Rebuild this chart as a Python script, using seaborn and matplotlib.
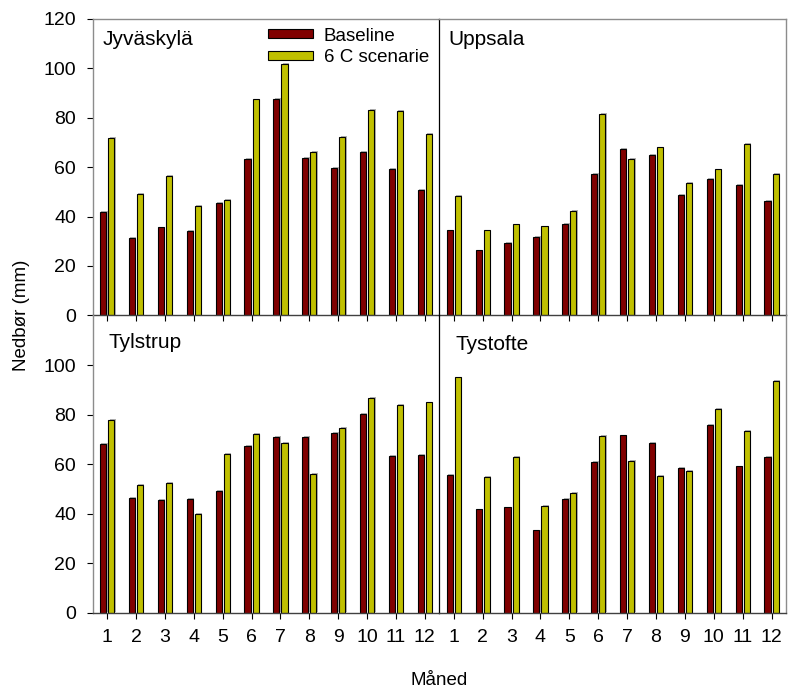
import matplotlib
matplotlib.use("Agg")
import matplotlib.pyplot as plt
import matplotlib.patheffects as pe
import seaborn as sns
import pandas as pd
from matplotlib.patches import Patch

# Monthly precipitation (mm) per station
months = [str(m) for m in range(1, 13)]
series = ["Baseline", "6 C scenarie"]
stations = ["Jyväskylä", "Uppsala", "Tylstrup", "Tystofte"]

jyvaskyla_base = [41.7, 31.4, 35.6, 34.3, 45.6, 63.2, 87.5, 63.8, 59.5, 66.2, 59.1, 50.9]
jyvaskyla_6c = [71.7, 49.0, 56.5, 44.3, 46.6, 87.3, 101.6, 66.2, 72.3, 83.1, 82.6, 73.3]
uppsala_base = [34.4, 26.3, 29.2, 31.8, 37.1, 57.1, 67.3, 64.9, 48.7, 55.2, 52.9, 46.2]
uppsala_6c = [48.4, 34.4, 36.8, 36.0, 42.2, 81.4, 63.3, 67.9, 53.7, 59.0, 69.5, 57.1]
tylstrup_base = [68.3, 46.4, 45.6, 46.0, 49.2, 67.3, 71.0, 71.0, 72.6, 80.2, 63.2, 63.8]
tylstrup_6c = [77.8, 51.7, 52.4, 39.9, 64.0, 72.3, 68.7, 55.9, 74.6, 86.8, 83.9, 84.9]
tystofte_base = [55.6, 41.7, 42.5, 33.2, 46.1, 61.0, 71.6, 68.4, 58.5, 75.9, 59.1, 63.0]
tystofte_6c = [95.0, 54.8, 62.9, 43.1, 48.4, 71.4, 61.3, 55.2, 57.4, 82.3, 73.5, 93.7]

station_data = {
    "Jyväskylä": (jyvaskyla_base, jyvaskyla_6c),
    "Uppsala": (uppsala_base, uppsala_6c),
    "Tylstrup": (tylstrup_base, tylstrup_6c),
    "Tystofte": (tystofte_base, tystofte_6c),
}

colors = ["#800000", "#C0C000"]
frame_grey = "#8c8c8c"

sns.set_theme(style="white")
plt.rcParams["font.family"] = ["Liberation Sans", "DejaVu Sans"]
plt.rcParams["text.color"] = "black"
plt.rcParams["xtick.labelcolor"] = "black"
plt.rcParams["ytick.labelcolor"] = "black"

fig = plt.figure(figsize=(7.89, 6.89), dpi=100)

left, mid, right = 0.1175, 0.5568, 0.9962
top, hmid, bottom = 0.9731, 0.5421, 0.1107
positions = [
    [left, hmid, mid - left, top - hmid],
    [mid, hmid, right - mid, top - hmid],
    [left, bottom, mid - left, hmid - bottom],
    [mid, bottom, right - mid, hmid - bottom],
]
name_pos = [(0.029, 0.911), (0.026, 0.911), (0.045, 0.890), (0.047, 0.885)]
bar_shadow = [pe.SimplePatchShadow(offset=(1.0, 0.6), shadow_rgbFace="#808080", alpha=0.6),
              pe.Normal()]

for i, (name, pos) in enumerate(zip(stations, positions)):
    ax = fig.add_axes(pos)
    ax.patch.set_alpha(0)
    base, scen = station_data[name]
    df = pd.DataFrame({
        "Måned": months * 2,
        "Nedbør": base + scen,
        "Serie": [series[0]] * 12 + [series[1]] * 12,
    })
    sns.barplot(data=df, x="Måned", y="Nedbør", hue="Serie", order=months,
                hue_order=series, palette=colors, saturation=1, width=0.56,
                gap=0.25, edgecolor="black", linewidth=0.8, legend=False, ax=ax)
    for bar in ax.patches:
        bar.set_path_effects(bar_shadow)
    ax.set_xlim(-0.5, 11.5)
    ax.set_ylim(0, 120)
    ax.set_xlabel("")
    ax.set_ylabel("")
    is_top = i < 2
    is_left = i % 2 == 0
    ax.set_yticks(range(0, 121, 20) if is_top else range(0, 101, 20))
    ax.tick_params(axis="both", which="major", direction="out", length=4,
                   width=0.8, color="black", labelcolor="black", labelsize=14, pad=8,
                   bottom=True, left=is_left, labelleft=is_left,
                   labelbottom=not is_top)
    for s in ax.spines.values():
        s.set_color(frame_grey)
        s.set_linewidth(1.0)
    ax.spines["bottom"].set_color("#404040")
    if is_left:
        ax.spines["right"].set_visible(False)
    else:
        ax.spines["left"].set_color("black")
        ax.spines["left"].set_linewidth(0.9)
    if not is_top:
        ax.spines["top"].set_visible(False)
    ax.text(name_pos[i][0], name_pos[i][1], name, transform=ax.transAxes,
            fontsize=15, va="baseline", ha="left", color="black")
    if i == 0:
        handles = [Patch(facecolor=c, edgecolor="black", linewidth=0.8) for c in colors]
        leg = ax.legend(handles, series, loc="center left", bbox_to_anchor=(0.507, 0.905),
                        frameon=False, fontsize=13.5, handlelength=2.35, handleheight=0.37,
                        handletextpad=0.6, labelspacing=0.23, borderpad=0, borderaxespad=0)
        for t in leg.get_texts():
            t.set_color("black")

fig.text(0.027, 0.542, "Nedbør (mm)", rotation=90, ha="center", va="center",
         fontsize=13.5, color="black")
fig.text(0.557, 0.006, "Måned", ha="center", va="baseline", fontsize=13.5, color="black")

fig.savefig("out.png", dpi=100)
